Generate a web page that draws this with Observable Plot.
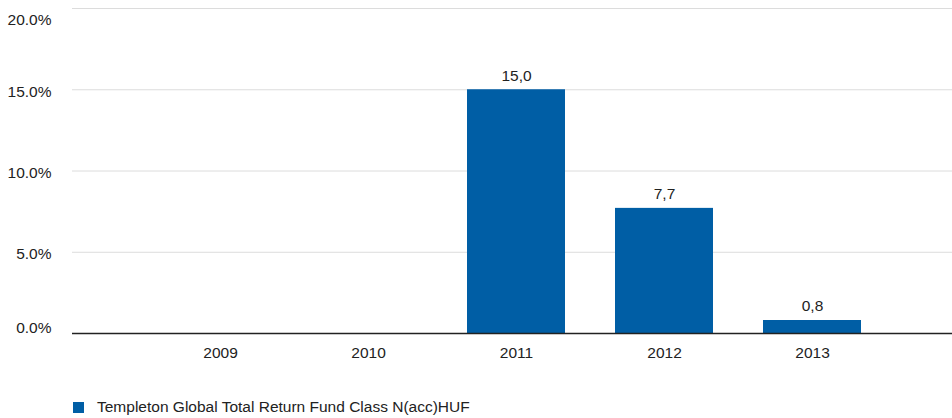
<!DOCTYPE html>
<html>
<head>
<meta charset="utf-8">
<script src="https://cdn.jsdelivr.net/npm/d3@7"></script>
<script src="https://cdn.jsdelivr.net/npm/@observablehq/plot@0.6"></script>
<style>
  html, body { margin: 0; padding: 0; background: #fff; }
  body { width: 952px; height: 418px; overflow: hidden; font-family: "Liberation Sans", Arial, sans-serif; }
  #legend { position: absolute; left: 73px; top: 398px; display: flex; align-items: center; font-size: 15.5px; color: #222; }
  #legend .sw { width: 11px; height: 11px; background: #005ea5; margin-right: 13px; }
</style>
</head>
<body>
<div id="chart"></div>
<div id="legend"><div class="sw"></div><span id="legtext"></span></div>
<script>
const years = ["2009", "2010", "2011", "2012", "2013"];
const values = [null, null, 15.0, 7.7, 0.8];
const yTicks = [0, 5, 10, 15, 20];
const seriesName = "Templeton Global Total Return Fund Class N(acc)HUF";
const barColor = "#005ea5";

const data = years.map((y, i) => ({year: y, value: values[i]}));
const bars = data.filter(d => d.value != null);
const fmtComma = v => v.toFixed(1).replace(".", ",");
const fmtPct = d => d.toFixed(1) + "%";
const yMin = d3.min(yTicks), yMax = d3.max(yTicks);
const yMid = yTicks.filter(t => t !== yMin && t !== yMax);

const axisOpts = {tickSize: 0, tickPadding: 21, tickFormat: fmtPct, label: null};

const chart = Plot.plot({
  width: 952,
  height: 380,
  marginTop: 8,
  marginBottom: 47,
  marginLeft: 72,
  marginRight: 0,
  style: {fontFamily: '"Liberation Sans", Arial, sans-serif', fontSize: "15.5px", color: "#222", background: "#fff"},
  x: {domain: years, paddingInner: 0.34, paddingOuter: 0.63, align: 0.52, label: null, tickSize: 0, tickPadding: 13},
  y: {domain: [yMin, yMax], label: null},
  marks: [
    Plot.gridY(yTicks, {stroke: "#dcdcdc", strokeOpacity: 1, strokeWidth: 1}),
    Plot.axisY([yMax], {...axisOpts, dy: 12}),
    Plot.axisY(yMid, {...axisOpts, dy: 2}),
    Plot.axisY([yMin], {...axisOpts, dy: -5}),
    Plot.axisX({tickSize: 0, tickPadding: 13, label: null}),
    Plot.barY(bars, {x: "year", y: "value", fill: barColor}),
    Plot.ruleY([0], {stroke: "#222", strokeWidth: 1.5}),
    Plot.text(bars, {x: "year", y: "value", text: d => fmtComma(d.value), dy: -14, fill: "#222", fontSize: 15.5})
  ]
});
document.getElementById("chart").appendChild(chart);
document.getElementById("legtext").textContent = seriesName;
</script>
</body>
</html>
